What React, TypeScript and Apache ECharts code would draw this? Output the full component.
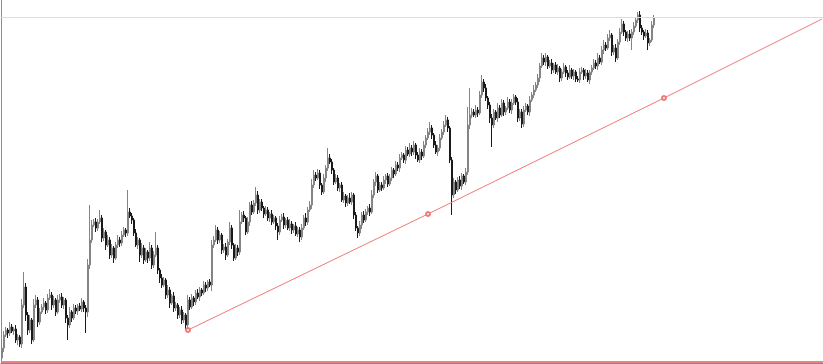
import React, { useEffect, useRef } from "react";
import * as echarts from "echarts";

// Price path (arbitrary price units), one candle per bar
const firstOpen = 5;
const closes = [
  15, 28, 33, 30, 36, 32, 34, 23, 26, 19,
  58, 76, 48, 33, 43, 23, 58, 63, 41, 51,
  56, 60, 53, 65, 68, 58, 63, 51, 63, 66,
  58, 63, 45, 38, 51, 45, 55, 52, 57, 54,
  61, 55, 51, 98, 123, 138, 141, 135, 141, 145,
  125, 131, 118, 123, 108, 115, 105, 118, 123, 120,
  128, 133, 130, 151, 147, 143, 130, 118, 123, 108,
  115, 103, 111, 105, 115, 98, 108, 115, 93, 85,
  78, 83, 68, 73, 60, 67, 55, 58, 48, 53,
  43, 48, 38, 63, 56, 65, 61, 70, 66, 73,
  70, 78, 75, 81, 78, 118, 123, 133, 123, 128,
  113, 116, 108, 121, 135, 118, 105, 115, 111, 141,
  148, 145, 131, 141, 158, 151, 160, 168, 153, 161,
  155, 149, 153, 145, 149, 141, 145, 137, 131, 143,
  146, 138, 143, 135, 139, 133, 137, 129, 133, 126,
  135, 145, 141, 153, 158, 178, 188, 185, 190, 178,
  171, 185, 195, 205, 201, 193, 181, 185, 175, 178,
  163, 167, 160, 165, 161, 168, 148, 135, 130, 138,
  148, 143, 151, 155, 151, 168, 181, 187, 173, 178,
  175, 183, 187, 179, 185, 193, 189, 198, 195, 205,
  208, 203, 213, 209, 215, 211, 218, 208, 203, 211,
  207, 218, 225, 231, 235, 228, 218, 211, 215, 225,
  231, 238, 243, 235, 203, 168, 181, 173, 183, 177,
  187, 181, 191, 238, 248, 251, 248, 253, 250, 268,
  281, 275, 265, 258, 245, 238, 251, 245, 255, 248,
  260, 251, 255, 261, 253, 260, 266, 261, 245, 251,
  239, 253, 257, 251, 263, 268, 273, 278, 285, 297,
  305, 301, 306, 297, 300, 293, 298, 291, 295, 285,
  291, 296, 290, 286, 293, 287, 291, 284, 283, 291,
  293, 287, 290, 283, 291, 295, 300, 297, 305, 301,
  313, 318, 315, 325, 328, 311, 315, 305, 321, 331,
  339, 331, 325, 329, 325, 331, 337, 343, 348, 335,
  331, 327, 330, 320, 323, 338, 345,
];
const upperWicks = [
  8, 4, 3, 2, 5, 3, 2, 4, 3, 2,
  6, 15, 4, 3, 5, 2, 6, 5, 3, 4,
  3, 5, 2, 4, 6, 3, 4, 2, 5, 3,
  4, 3, 2, 3, 5, 2, 4, 3, 2, 3,
  4, 2, 3, 6, 35, 5, 3, 4, 3, 8,
  3, 4, 2, 5, 3, 4, 2, 3, 5, 3,
  4, 3, 2, 22, 4, 3, 2, 4, 3, 2,
  5, 3, 4, 2, 6, 3, 4, 16, 3, 2,
  4, 3, 2, 5, 3, 2, 4, 3, 2, 3,
  4, 3, 2, 5, 3, 4, 2, 3, 4, 3,
  2, 4, 3, 2, 3, 5, 4, 5, 3, 4,
  2, 3, 4, 3, 6, 3, 2, 4, 3, 12,
  3, 4, 2, 5, 3, 4, 3, 8, 4, 3,
  3, 2, 4, 3, 2, 4, 3, 2, 3, 4,
  3, 4, 2, 3, 5, 3, 2, 4, 3, 3,
  4, 3, 5, 3, 4, 6, 5, 3, 4, 3,
  2, 4, 3, 10, 4, 3, 2, 4, 3, 2,
  3, 4, 2, 3, 5, 3, 2, 3, 2, 4,
  3, 4, 3, 2, 4, 5, 3, 4, 2, 3,
  3, 4, 2, 3, 4, 3, 2, 4, 3, 4,
  3, 2, 4, 3, 5, 3, 4, 2, 3, 4,
  3, 4, 3, 4, 6, 3, 2, 4, 3, 4,
  3, 4, 5, 3, 2, 3, 4, 2, 3, 4,
  3, 2, 4, 18, 27, 4, 3, 5, 3, 4,
  7, 3, 4, 2, 3, 4, 3, 2, 5, 3,
  4, 3, 2, 5, 3, 4, 3, 2, 4, 3,
  3, 4, 3, 2, 4, 3, 5, 3, 4, 3,
  5, 3, 4, 2, 3, 4, 2, 3, 4, 2,
  3, 4, 2, 3, 5, 2, 3, 2, 3, 4,
  3, 2, 4, 3, 2, 3, 4, 3, 5, 3,
  4, 5, 3, 4, 5, 2, 3, 4, 3, 4,
  5, 3, 2, 3, 4, 3, 4, 3, 3, 4,
  3, 2, 4, 3, 2, 4, 3,
];
const lowerWicks = [
  3, 4, 2, 5, 3, 2, 4, 3, 5, 3,
  4, 3, 6, 5, 3, 4, 2, 3, 5, 3,
  2, 3, 4, 3, 2, 5, 3, 4, 2, 3,
  3, 4, 5, 15, 3, 4, 2, 3, 4, 2,
  3, 4, 21, 5, 4, 3, 2, 4, 3, 2,
  4, 3, 5, 2, 4, 3, 5, 2, 3, 4,
  3, 2, 4, 3, 2, 4, 3, 2, 4, 7,
  3, 4, 2, 5, 3, 4, 3, 2, 4, 5,
  3, 2, 4, 3, 5, 2, 4, 3, 4, 3,
  4, 3, 4, 5, 3, 2, 4, 3, 2, 4,
  3, 2, 4, 3, 2, 6, 3, 2, 4, 3,
  4, 3, 5, 2, 3, 4, 3, 2, 4, 3,
  2, 4, 3, 2, 4, 3, 2, 3, 4, 3,
  3, 4, 2, 3, 4, 3, 2, 4, 8, 3,
  2, 4, 3, 2, 3, 4, 3, 2, 3, 5,
  3, 2, 4, 3, 2, 4, 3, 3, 2, 4,
  3, 2, 4, 3, 2, 4, 3, 2, 3, 4,
  2, 3, 4, 3, 2, 3, 4, 3, 5, 3,
  4, 3, 2, 3, 4, 2, 3, 4, 3, 2,
  3, 2, 4, 3, 2, 3, 4, 2, 3, 4,
  2, 3, 4, 2, 3, 4, 3, 4, 2, 3,
  4, 2, 3, 2, 3, 4, 3, 2, 4, 3,
  2, 3, 2, 4, 3, 20, 3, 4, 2, 3,
  4, 2, 3, 3, 4, 3, 2, 3, 4, 2,
  3, 4, 3, 4, 5, 22, 3, 2, 4, 3,
  2, 4, 3, 2, 3, 4, 2, 3, 4, 3,
  4, 3, 2, 3, 4, 2, 3, 2, 3, 4,
  2, 3, 4, 3, 2, 4, 3, 2, 3, 4,
  3, 2, 4, 3, 2, 3, 4, 3, 2, 3,
  2, 4, 3, 2, 4, 3, 2, 3, 4, 2,
  3, 4, 3, 2, 3, 4, 3, 4, 2, 3,
  2, 4, 3, 4, 3, 12, 3, 2, 3, 4,
  3, 4, 2, 7, 3, 2, 3,
];

// Total bars on the time axis (data + empty future space)
const totalBars = 411;
// Trend line anchor points: [bar index, price]
const trendPoints = [
  [93, 33],
  [213, 149],
  [331, 265],
  [410, 344],
];
const lastPriceLevel = 346;
const baseLevel = 1.5;
const yMin = 0;
const yMax = 363;

export default function App() {
  const ref = useRef<HTMLDivElement>(null);

  useEffect(() => {
    document.body.style.margin = "0";
    if (!ref.current) return;
    const chart = echarts.init(ref.current, undefined, { renderer: "svg" });

    const categories = Array.from({ length: totalBars }, (_, i) => String(i + 1));
    const ohlc = closes.map((c, i) => {
      const o = i === 0 ? firstOpen : closes[i - 1];
      const hi = Math.max(o, c) + upperWicks[i];
      const lo = Math.min(o, c) - lowerWicks[i];
      return [o, c, lo, hi];
    });

    const trendData = trendPoints.map((p, i) =>
      i === trendPoints.length - 1
        ? { value: p, symbol: "none" }
        : { value: p }
    );

    chart.setOption({
      animation: false,
      backgroundColor: "#ffffff",
      grid: { left: 1, right: 0, top: 0, bottom: 1, containLabel: false },
      xAxis: {
        type: "category",
        data: categories,
        boundaryGap: true,
        axisLine: { show: true, lineStyle: { color: "#7088b8", width: 1 } },
        axisTick: { show: false },
        axisLabel: { show: false },
        splitLine: { show: false },
      },
      yAxis: {
        type: "value",
        min: yMin,
        max: yMax,
        axisLine: { show: true, lineStyle: { color: "#8c8c8c", width: 1 } },
        axisTick: { show: false },
        axisLabel: { show: false },
        splitLine: { show: false },
      },
      series: [
        {
          type: "candlestick",
          data: ohlc,
          barWidth: 1.4,
          itemStyle: {
            color: "#9c9c9c",
            color0: "#1a1a1a",
            borderColor: "#858585",
            borderColor0: "#1a1a1a",
            borderWidth: 1,
          },
          markLine: {
            silent: true,
            symbol: ["none", "none"],
            label: { show: false },
            data: [
              { yAxis: lastPriceLevel, lineStyle: { color: "#dcdcdc", width: 1, type: "solid" } },
              { yAxis: baseLevel, lineStyle: { color: "#f08080", width: 2, type: "solid" } },
            ],
          },
        },
        {
          type: "line",
          data: trendData,
          symbol: "emptyCircle",
          symbolSize: 4,
          showSymbol: true,
          showAllSymbol: true,
          itemStyle: { color: "#f27878", borderWidth: 0.8 },
          lineStyle: { color: "#f27878", width: 1 },
          silent: true,
          z: 3,
        },
      ],
    });

    return () => chart.dispose();
  }, []);

  return (
    <div
      ref={ref}
      style={{ position: "fixed", left: 0, top: 0, width: 823, height: 364 }}
    />
  );
}
